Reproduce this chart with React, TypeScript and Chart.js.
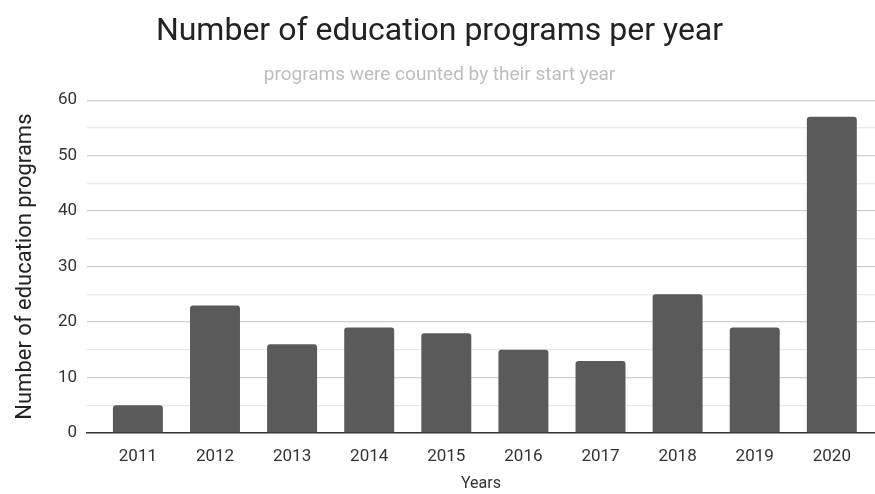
import React, { useEffect, useRef } from "react";
import { Chart, registerables } from "chart.js";

Chart.register(...registerables);

const categories = ["2011", "2012", "2013", "2014", "2015", "2016", "2017", "2018", "2019", "2020"];
const programCounts = [5, 23, 16, 19, 18, 15, 13, 25, 19, 57];
const titleText = "Number of education programs per year";
const subtitleText = "programs were counted by their start year";
const xAxisTitle = "Years";
const yAxisTitle = "Number of education programs";

export default function App() {
  const ref = useRef<HTMLCanvasElement | null>(null);
  useEffect(() => {
    if (!ref.current) return;
    const points = programCounts.map((v, i) => ({ x: i, y: v }));
    const chart = new Chart(ref.current, {
      type: "bar",
      data: {
        datasets: [
          {
            data: points as any,
            backgroundColor: "#5a5a5a",
            borderRadius: 3,
            borderSkipped: "bottom",
            barPercentage: 0.8,
            categoryPercentage: 0.81,
          },
        ],
      },
      options: {
        animation: false,
        responsive: false,
        maintainAspectRatio: false,
        layout: { padding: { left: 4, right: 0, top: 0, bottom: 0 } },
        plugins: {
          legend: { display: false },
          tooltip: { enabled: false },
          title: {
            display: true,
            text: titleText,
            color: "#222222",
            font: { family: "Roboto", size: 32, weight: "normal" },
            padding: { top: 13, bottom: 6 },
          },
          subtitle: {
            display: true,
            text: subtitleText,
            color: "#bdbdbd",
            font: { family: "Roboto", size: 19, weight: "normal" },
            padding: { top: 6, bottom: 14 },
          },
        },
        scales: {
          x: {
            type: "linear",
            offset: false,
            min: -0.66,
            max: 9.56,
            afterBuildTicks: (scale: any) => {
              scale.ticks = categories.map((_, i) => ({ value: i }));
            },
            afterFit: (scale: any) => {
              scale.height = 61;
            },
            grid: { display: false, drawTicks: false, offset: false },
            border: { display: true, color: "#333333", width: 1.5 },
            ticks: {
              autoSkip: false,
              maxRotation: 0,
              color: "#333333",
              font: { family: "Roboto", size: 17 },
              padding: 14,
              callback: (v: any) => categories[Math.round(Number(v))] ?? "",
            },
            title: {
              display: true,
              text: xAxisTitle,
              color: "#333333",
              font: { family: "Roboto", size: 16 },
              padding: { top: 0, bottom: 0 },
            },
          },
          y: {
            min: 0,
            max: 60,
            afterFit: (scale: any) => {
              scale.width = 83;
            },
            grid: {
              drawTicks: false,
              color: (ctx: any) => {
                const v = ctx.tick ? ctx.tick.value : 0;
                if (v === 0) return "rgba(0,0,0,0)";
                return v % 10 === 0 ? "#cfcfcf" : "#e8e8e8";
              },
              lineWidth: 1.3,
            },
            border: { display: false },
            ticks: {
              stepSize: 5,
              color: "#333333",
              font: { family: "Roboto", size: 17 },
              padding: 10,
              callback: (v: any) => (Number(v) % 10 === 0 ? String(v) : ""),
            },
            title: {
              display: true,
              text: yAxisTitle,
              color: "#222222",
              font: { family: "Roboto", size: 22 },
              padding: { top: 8, bottom: 18 },
            },
          },
        },
      },
    });
    return () => chart.destroy();
  }, []);
  return (
    <div style={{ position: "absolute", left: 0, top: 0, width: 875, height: 494, background: "#ffffff" }}>
      <canvas ref={ref} width={875} height={494} style={{ width: 875, height: 494 }} />
    </div>
  );
}
